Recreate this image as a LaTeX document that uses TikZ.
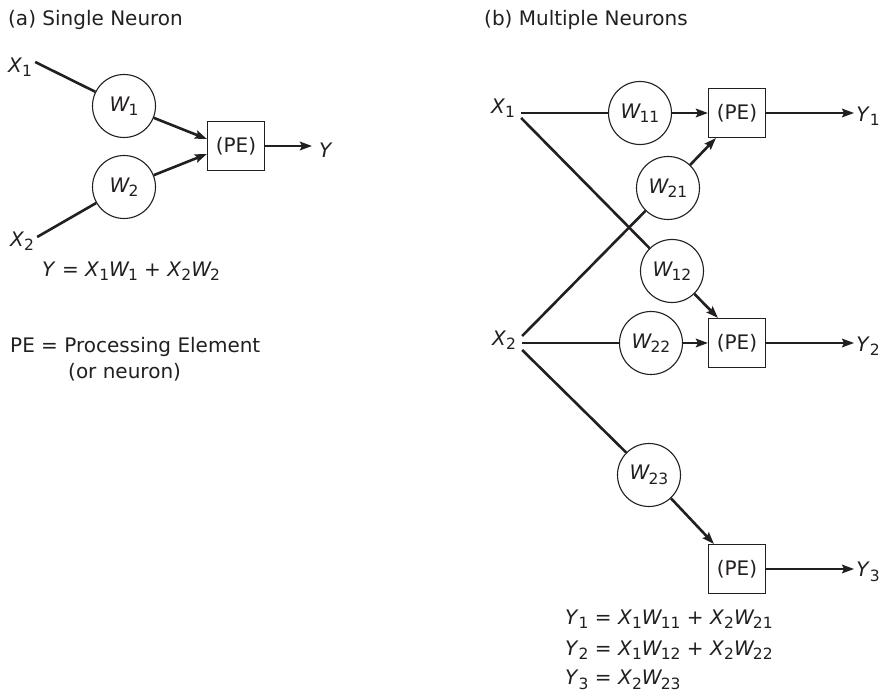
\documentclass[tikz,border=0pt]{standalone}
\usepackage{fontspec}
\setmainfont{DejaVu Sans}
\usetikzlibrary{arrows.meta}
\definecolor{ink}{HTML}{231F20}
\newcommand{\vv}[2]{\textit{#1}\kern0pt\raisebox{-4.5pt}{\fontsize{15.5}{15.5}\selectfont #2}}
\newcommand{\ww}[2]{\textit{#1}\kern-1.5pt\raisebox{-4.5pt}{\fontsize{15.5}{15.5}\selectfont #2}}
\begin{document}
\begin{tikzpicture}[x=1pt,y=-1pt,font=\fontsize{20}{24}\selectfont,color=ink,
  wnode/.style={circle,draw=ink,line width=1.1pt,minimum size=63pt,inner sep=0pt},
  penode/.style={rectangle,draw=ink,line width=1.1pt,minimum width=57pt,minimum height=49pt,inner sep=0pt},
  lbl/.style={inner sep=0pt},
  conn/.style={line width=2.6pt,draw=ink},
  arr/.style={conn,-{Stealth[length=12pt,width=8.5pt,inset=2pt]}}]
\useasboundingbox (0,0) rectangle (884,692);
% titles
\node[lbl,anchor=west] (ta) at (8,20) {(a) Single Neuron};
\node[lbl,anchor=west] (tb) at (484,20) {(b) Multiple Neurons};
% panel a
\node[lbl] (ax1) at (20,67) {\vv{X}{1}};
\node[lbl] (ax2) at (22,241) {\vv{X}{2}};
\node[wnode] (aw1) at (124,106) {\ww{W}{1}};
\node[wnode] (aw2) at (124,187) {\ww{W}{2}};
\node[penode] (ape) at (236,146) {(PE)};
\node[lbl] (ay) at (326,150) {\textit{Y}};
\draw[conn] ([xshift=3pt,yshift=5pt]ax1.east) -- (aw1);
\draw[conn] ([xshift=3pt,yshift=4pt]ax2.east) -- (aw2);
\draw[arr] (aw1) -- ([yshift=7pt]ape.west);
\draw[arr] (aw2) -- ([yshift=-8pt]ape.west);
\draw[arr] (ape) -- ([xshift=-7pt]ape.east -| ay.west);
\node[lbl,anchor=west] (aeq) at (42,271) {\textit{Y} = \vv{X}{1}\ww{W}{1} + \vv{X}{2}\ww{W}{2}};
\node[lbl,anchor=west] (pedef) at (10,347) {PE = Processing Element};
\node[lbl,anchor=west] (orn) at (68,372) {(or neuron)};
% panel b
\node[lbl] (bx1) at (503,108) {\vv{X}{1}};
\node[lbl] (bx2) at (504,340) {\vv{X}{2}};
\node[wnode] (w11) at (640,113) {\ww{W}{11}};
\node[wnode] (w21) at (668,188) {\ww{W}{21}};
\node[wnode] (w12) at (672,271) {\ww{W}{12}};
\node[wnode] (w22) at (651,343) {\ww{W}{22}};
\node[wnode] (w23) at (649,475) {\ww{W}{23}};
\node[penode] (pe1) at (737,113) {(PE)};
\node[penode] (pe2) at (737,343) {(PE)};
\node[penode] (pe3) at (737,569) {(PE)};
\node[lbl] (y1) at (868,116) {\vv{Y}{1}};
\node[lbl] (y2) at (868,346) {\vv{Y}{2}};
\node[lbl] (y3) at (868,572) {\vv{Y}{3}};
\draw[conn] ([xshift=6pt,yshift=-5pt]bx1.east) -- (w11);
\draw[conn] ([xshift=6pt,yshift=-10pt]bx1.east) -- (w12);
\draw[conn] ([xshift=6pt,yshift=4pt]bx2.east) -- (w21);
\draw[conn] ([xshift=6pt,yshift=-3pt]bx2.east) -- (w22);
\draw[conn] ([xshift=6pt,yshift=-10pt]bx2.east) -- (w23);
\draw[arr] (w11) -- (pe1);
\draw[arr] (w22) -- (pe2);
\draw[arr] (w21) -- ([xshift=8pt]pe1.south west);
\draw[arr] (w12) -- ([xshift=10pt]pe2.north west);
\draw[arr] (w23) -- ([xshift=6pt]pe3.north west);
\draw[arr] (pe1) -- ([xshift=-2pt]pe1 -| y1.west);
\draw[arr] (pe2) -- ([xshift=-2pt]pe2 -| y2.west);
\draw[arr] (pe3) -- ([xshift=-2pt]pe3 -| y3.west);
\node[lbl,anchor=west] (e1) at (565,619) {\vv{Y}{1} = \vv{X}{1}\ww{W}{11} + \vv{X}{2}\ww{W}{21}};
\node[lbl,anchor=west] (e2) at (565,650) {\vv{Y}{2} = \vv{X}{1}\ww{W}{12} + \vv{X}{2}\ww{W}{22}};
\node[lbl,anchor=west] (e3) at (565,680) {\vv{Y}{3} = \vv{X}{2}\ww{W}{23}};
\end{tikzpicture}
\end{document}
